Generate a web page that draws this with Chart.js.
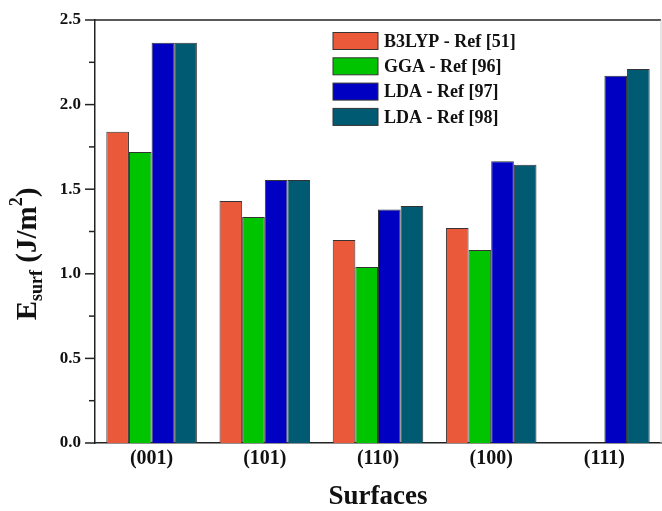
<!DOCTYPE html>
<html>
<head>
<meta charset="utf-8">
<script src="https://cdn.jsdelivr.net/npm/chart.js@4.4.1/dist/chart.umd.min.js"></script>
<style>
  html, body { margin: 0; padding: 0; background: #fff; }
</style>
</head>
<body>
<canvas id="chart" width="662" height="511"></canvas>
<script>
// surfaces on the x axis
const surfaces = ['(001)', '(101)', '(110)', '(100)', '(111)'];

// surface energies in J/m^2
const b3lyp51 = [1.84, 1.43, 1.20, 1.27, null];
const gga96 = [1.72, 1.335, 1.04, 1.14, null];
const lda97 = [2.365, 1.555, 1.38, 1.665, 2.17];
const lda98 = [2.365, 1.555, 1.40, 1.645, 2.21];

const seriesNames = ['B3LYP - Ref [51]', 'GGA - Ref [96]', 'LDA - Ref [97]', 'LDA - Ref [98]'];
const yTicks = [0.0, 0.5, 1.0, 1.5, 2.0, 2.5];

const colors = ['#EA5A3A', '#00C400', '#0000C2', '#005A72'];
const serif = '"Liberation Serif", "DejaVu Serif", serif';

// draws ticks, frame, axis titles and legend
const decorations = {
    id: 'decorations',
    afterDraw(chart) {
        const ctx = chart.ctx;
        const area = chart.chartArea;
        const y = chart.scales.y;
        ctx.save();

        // top and right frame
        ctx.strokeStyle = '#222';
        ctx.lineWidth = 1.5;
        ctx.beginPath();
        ctx.moveTo(area.left, area.top);
        ctx.lineTo(area.right, area.top);
        ctx.stroke();
        ctx.strokeStyle = '#ccc';
        ctx.lineWidth = 1;
        ctx.beginPath();
        ctx.moveTo(area.right, area.top);
        ctx.lineTo(area.right, area.bottom);
        ctx.stroke();

        // y ticks, major and minor
        ctx.strokeStyle = '#222';
        ctx.lineWidth = 1.5;
        for (let v = 0; v <= 2.5001; v += 0.25) {
            const py = y.getPixelForValue(v);
            const major = Math.abs(v * 2 - Math.round(v * 2)) < 1e-6;
            ctx.beginPath();
            ctx.moveTo(area.left - (major ? 10 : 6), py);
            ctx.lineTo(area.left, py);
            ctx.stroke();
        }

        // y axis title with subscript and superscript
        ctx.fillStyle = '#111';
        ctx.translate(27, 254);
        ctx.rotate(-Math.PI / 2);
        const parts = [
            { t: 'E', size: 29, dy: 0 },
            { t: 'surf', size: 18, dy: 8 },
            { t: ' (J/m', size: 29, dy: 0 },
            { t: '2', size: 18, dy: -12 },
            { t: ')', size: 29, dy: 0 }
        ];
        let total = 0;
        parts.forEach(p => {
            ctx.font = 'bold ' + p.size + 'px ' + serif;
            p.w = ctx.measureText(p.t).width;
            total += p.w;
        });
        let x = -total / 2;
        ctx.textBaseline = 'middle';
        ctx.textAlign = 'left';
        parts.forEach(p => {
            ctx.font = 'bold ' + p.size + 'px ' + serif;
            ctx.fillText(p.t, x, p.dy + 2);
            x += p.w;
        });
        ctx.setTransform(1, 0, 0, 1, 0, 0);

        // x axis title
        ctx.font = 'bold 27px ' + serif;
        ctx.textAlign = 'center';
        ctx.textBaseline = 'middle';
        ctx.fillText('Surfaces', (area.left + area.right) / 2, 497);

        // legend
        ctx.textAlign = 'left';
        ctx.font = 'bold 18px ' + serif;
        chart.data.datasets.forEach((ds, i) => {
            const cy = 41 + i * 25.3;
            ctx.fillStyle = ds.backgroundColor;
            ctx.fillRect(333, cy - 8.5, 45, 17);
            ctx.strokeStyle = '#333';
            ctx.lineWidth = 1;
            ctx.strokeRect(333, cy - 8.5, 45, 17);
            ctx.fillStyle = '#111';
            ctx.fillText(ds.label, 384, cy + 1);
        });
        ctx.restore();
    }
};

new Chart(document.getElementById('chart'), {
    type: 'bar',
    data: {
        labels: surfaces,
        datasets: [b3lyp51, gga96, lda97, lda98].map((d, i) => ({
            label: seriesNames[i],
            data: d,
            backgroundColor: colors[i],
            borderColor: '#333',
            borderWidth: 1,
            borderSkipped: 'bottom',
            categoryPercentage: 0.8,
            barPercentage: 1.0
        }))
    },
    options: {
        responsive: false,
        animation: false,
        devicePixelRatio: 1,
        layout: { padding: { top: 20, right: 1, left: 0, bottom: 0 } },
        plugins: {
            legend: { display: false },
            tooltip: { enabled: false }
        },
        scales: {
            x: {
                grid: { display: false, drawTicks: false },
                border: { color: '#222', width: 1.5 },
                ticks: {
                    color: '#111',
                    padding: 4,
                    font: { family: serif, size: 20, weight: 'bold' }
                },
                afterFit: s => { s.height = 68; }
            },
            y: {
                min: 0,
                max: 2.5,
                afterBuildTicks: s => { s.ticks = yTicks.map(v => ({ value: v })); },
                grid: { display: false, drawTicks: false },
                border: { color: '#222', width: 1.5 },
                ticks: {
                    color: '#111',
                    padding: 14,
                    font: { family: serif, size: 17, weight: 'bold', lineHeight: 0.6 },
                    callback: v => v.toFixed(1)
                },
                afterFit: s => { s.width = 95; }
            }
        }
    },
    plugins: [decorations]
});
</script>
</body>
</html>
